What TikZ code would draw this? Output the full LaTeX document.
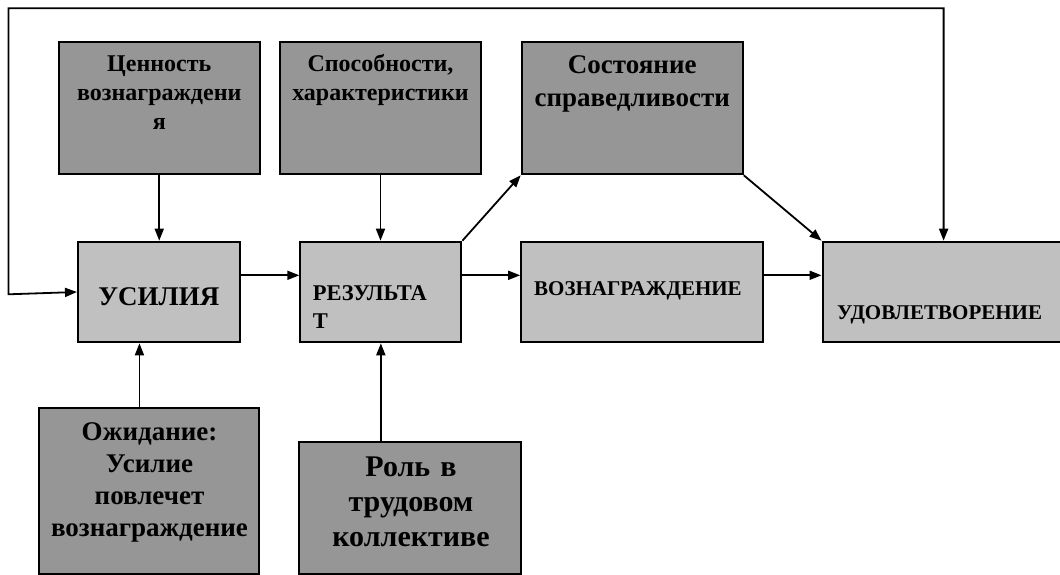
\documentclass[tikz,border=0pt]{standalone}
\usepackage{fontspec}
\setmainfont{Liberation Serif}[BoldFont={Liberation Serif Bold}]
\newfontfamily\tnrb{Liberation Serif Bold}
\usetikzlibrary{arrows.meta}
\definecolor{darkbox}{RGB}{150,150,150}
\definecolor{lightbox}{RGB}{192,192,192}
\begin{document}
\begin{tikzpicture}[x=1pt,y=-1pt,
  boxbase/.style={draw=black, line width=2pt, inner sep=0pt, rectangle},
  boxd/.style={boxbase, fill=darkbox},
  boxl/.style={boxbase, fill=lightbox},
  txt/.style={inner sep=0pt},
  arr/.style={line width=1.8pt, -{Triangle[length=12pt,width=9pt]}},
  dblarr/.style={line width=1.8pt, {Triangle[length=12pt,width=9pt]}-{Triangle[length=12pt,width=9pt]}}
]
\useasboundingbox (0,0) rectangle (1060,575);
% boxes
\node[boxd, minimum width=201.5pt, minimum height=132.6pt] (val) at (159.25,108) {};
\node[boxd, minimum width=201.8pt, minimum height=132.6pt] (abil) at (380.5,108) {};
\node[boxd, minimum width=221.1pt, minimum height=132.6pt] (fair) at (632.25,108) {};
\node[boxl, minimum width=161.7pt, minimum height=100.6pt] (eff) at (158.85,292) {};
\node[boxl, minimum width=161.1pt, minimum height=100.6pt] (res) at (380.85,292) {};
\node[boxl, minimum width=241.9pt, minimum height=100.6pt] (rew) at (642.15,292) {};
\node[boxl, minimum width=252.5pt, minimum height=100.6pt] (sat) at (948.75,292) {};
\node[boxd, minimum width=220.5pt, minimum height=165.7pt] (exp) at (148.75,491.15) {};
\node[boxd, minimum width=222pt, minimum height=132.3pt] (role) at (410,507.85) {};
% texts
\node[txt, font=\tnrb\fontsize{24}{29}\selectfont, text width=200pt, align=center, anchor=base] (valt) at (159.25,71.7) {Ценность\\вознаграждени\\я};
\node[txt, font=\tnrb\fontsize{24}{29}\selectfont, text width=200pt, align=center, anchor=base] (abilt) at (380.5,71.7) {Способности,\\характеристики};
\node[txt, font=\tnrb\fontsize{27}{33}\selectfont, text width=220pt, align=center, anchor=base] (fairt) at (632.25,73.3) {Состояние\\справедливости};
\node[txt, font=\tnrb\fontsize{27}{27}\selectfont, anchor=base] (efft) at (158.85,305) {УСИЛИЯ};
\node[txt, font=\tnrb\fontsize{22.5}{28}\selectfont, text width=150pt, align=left, anchor=base west] (rest) at (312.7,300) {РЕЗУЛЬТА\\Т};
\node[txt, font=\tnrb\fontsize{21}{21}\selectfont, anchor=base west] (rewt) at (534,295) {ВОЗНАГРАЖДЕНИЕ};
\node[txt, font=\tnrb\fontsize{21}{21}\selectfont, anchor=base west] (satt) at (837,319.3) {УДОВЛЕТВОРЕНИЕ};
\node[txt, font=\tnrb\fontsize{27}{32}\selectfont, text width=218pt, align=center, anchor=base] (expt) at (149.5,440.7) {Ожидание:\\Усилие\\повлечет\\вознаграждение};
\node[txt, font=\tnrb\fontsize{30}{35}\selectfont, text width=220pt, align=center, anchor=base] (rolet) at (411,476.7) {Роль в\\трудовом\\коллективе};
% connectors
\draw[arr] (val.south) -- (val.south |- eff.north);
\draw[arr] (abil.south) -- (abil.south |- res.north);
\draw[arr] ([xshift=-9.3pt]exp.north) -- ([xshift=-9.3pt]exp.north |- eff.south);
\draw[arr] (role.north -| res.south) -- (res.south);
\draw[arr] ([yshift=16.7pt]eff.east) -- ([yshift=16.7pt]eff.east -| res.west);
\draw[arr] ([yshift=16.7pt]res.east) -- ([yshift=16.7pt]res.east -| rew.west);
\draw[arr] ([yshift=16.7pt]rew.east) -- ([yshift=16.7pt]rew.east -| sat.west);
\draw[arr] (res.north east) -- (fair.south west);
\draw[arr] (fair.south east) -- (sat.north west);
\coordinate (fbR) at (943.6,8.3);
\coordinate (fbL) at (8.5,8.3);
\coordinate (fbB) at (8.5,294.3);
\draw[dblarr] (eff.west) -- (fbB) -- (fbL) -- (fbR) -- (fbR |- sat.north);
\end{tikzpicture}
\end{document}
